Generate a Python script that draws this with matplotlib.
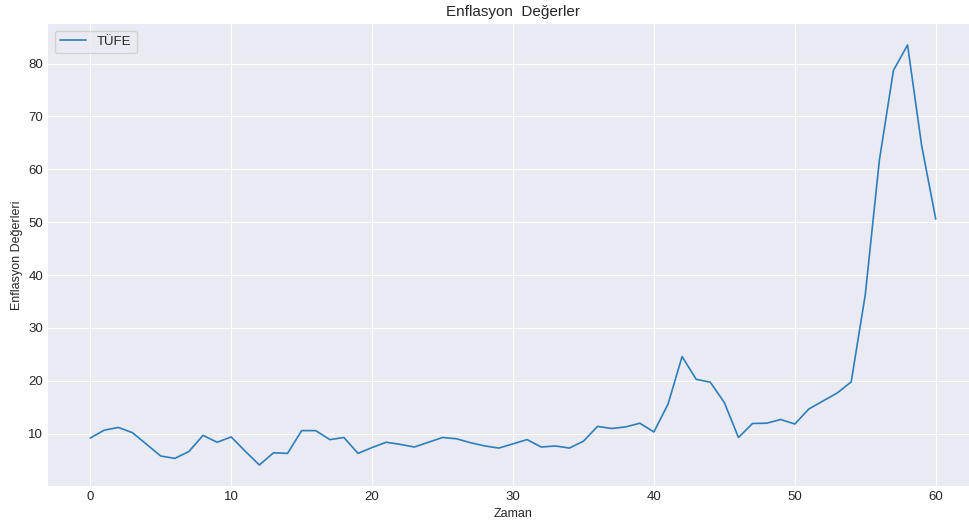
import numpy as np
import matplotlib
matplotlib.use("Agg")
import matplotlib.pyplot as plt

plt.style.use('seaborn-v0_8-darkgrid')
plt.rcParams['font.family'] = ['Liberation Sans', 'DejaVu Sans']

# aylik TÜFE degerleri
zaman = np.arange(61)
tufe = [9.2, 10.7, 11.2, 10.2, 8.0, 5.8, 5.35, 6.65, 9.7, 8.4,
        9.4, 6.7, 4.1, 6.4, 6.3, 10.6, 10.6, 8.9, 9.3, 6.3,
        7.4, 8.4, 8.0, 7.5, 8.4, 9.3, 9.05, 8.3, 7.7, 7.3,
        8.1, 8.9, 7.5, 7.7, 7.3, 8.6, 11.4, 11.0, 11.3, 12.0,
        10.35, 15.6, 24.6, 20.3, 19.75, 15.9, 9.3, 11.95, 12.0, 12.7,
        11.85, 14.7, 16.2, 17.7, 19.8, 36.3, 61.7, 78.7, 83.5, 64.5,
        50.6]

fig = plt.figure(figsize=(9.69, 5.22), dpi=100)
ax = fig.add_axes([48/969, 36/522, 930/969, 462/522])

ax.plot(zaman, tufe, label='TÜFE', linewidth=1.2, color='#2b7fba')

ax.set_title('Enflasyon  Değerler', fontsize=11)
ax.set_xlabel('Zaman', fontsize=9)
ax.set_ylabel('Enflasyon Değerleri', fontsize=9)
ax.tick_params(labelsize=9.5)
ax.legend(loc='upper left', frameon=True, fontsize=9.5)

plt.savefig('out.png', dpi=100)
